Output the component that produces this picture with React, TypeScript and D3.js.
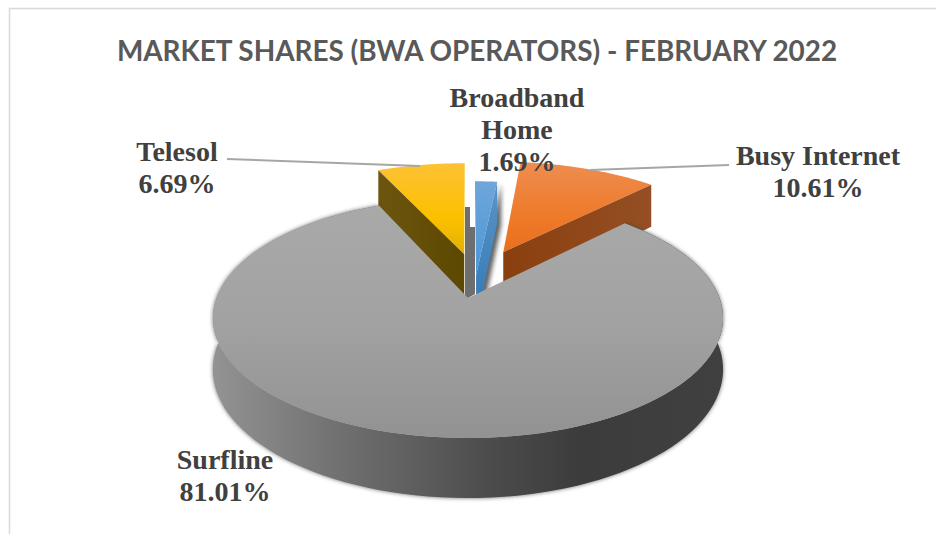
import React from "react";
import * as d3 from "d3";

const categories = ["Broadband Home", "Busy Internet", "Surfline", "Telesol"];
const shares = [1.69, 10.61, 81.01, 6.69];
const labelLines = [["Broadband", "Home", "1.69%"], ["Busy Internet", "10.61%"], ["Surfline", "81.01%"], ["Telesol", "6.69%"]];
const title = "MARKET SHARES (BWA OPERATORS) - FEBRUARY 2022";

const W = 936;
const H = 534;

// perspective of the pie plane: unit circle -> screen
const cx = 468;
const cy = 298;
const scaleU = 251.5;
const scaleV = 116.7;
const persp = 0.1667;
const depth = 50;

// how far each slice is pulled out, in pie radii (u, v), and its radius
const explode = [[0.033, -0.2], [0.15, -0.42], [0, 0], [-0.016, -0.4]];
const radius = [1, 1.03, 1, 1.03];
const labelPos = [[517, 107], [818, 165], [225, 469], [177, 161]];
const leaders = [null, [[729, 165], [590, 170]], null, [[227, 159], [420, 166]]];
// dark sliver seen between Telesol and Broadband Home
const sliver: [number, number][] = [[465, 207], [470, 207], [470, 227], [475, 227], [475, 294], [468, 298], [465, 298]];

const topFill = ["url(#topBlue)", "url(#topOrange)", "url(#topGray)", "url(#topYellow)"];
const wallFill = ["url(#wallBlue)", "url(#wallOrange)", "url(#wallGray)", "url(#wallYellow)"];

const project = (u: number, v: number, h = 0): [number, number] => {
  const w = 1 - persp * v;
  return [cx + (scaleU * u) / w, cy + (scaleV * v + depth * h) / w];
};

const line = d3.line();

const App = () => {
  const arcs = d3.pie<number>().sort(null).startAngle(0).endAngle(2 * Math.PI)(shares);

  const slices = arcs.map((a, i) => {
    const [ox, oy] = explode[i];
    const r = radius[i];
    const rim = (t: number, h = 0) => project(ox + r * Math.sin(t), oy - r * Math.cos(t), h);
    const steps = d3.range(0, 121).map((k) => a.startAngle + ((a.endAngle - a.startAngle) * k) / 120);
    const topPts = [project(ox, oy), ...steps.map((t) => rim(t))];
    const rimWall = [...steps.map((t) => rim(t)), ...steps.slice().reverse().map((t) => rim(t, 1))];
    const mid = (a.startAngle + a.endAngle) / 2;
    const edge = mid < Math.PI ? a.endAngle : a.startAngle;
    const radialWall = [project(ox, oy), rim(edge), rim(edge, 1), project(ox, oy, 1)];
    return { i, top: line(topPts) + "Z", rimWall: line(rimWall) + "Z", radialWall: line(radialWall) + "Z" };
  });

  const back = [slices[3], slices[1], slices[0]];
  const front = slices[2];

  return (
    <svg width={W} height={H} style={{ position: "absolute", left: 0, top: 0, background: "#fff" }}>
      <defs>
        <filter id="soft" x="-20%" y="-20%" width="140%" height="140%">
          <feGaussianBlur stdDeviation="2" />
        </filter>
        <linearGradient id="topGray" x1="0" y1="0" x2="0" y2="1">
          <stop offset="0" stopColor="#a9a9a9" />
          <stop offset="0.5" stopColor="#a2a2a2" />
          <stop offset="1" stopColor="#929292" />
        </linearGradient>
        <linearGradient id="wallGray" x1="0" y1="0" x2="1" y2="0">
          <stop offset="0" stopColor="#939393" />
          <stop offset="0.25" stopColor="#707070" />
          <stop offset="0.55" stopColor="#4b4b4b" />
          <stop offset="0.72" stopColor="#3c3c3c" />
          <stop offset="1" stopColor="#404040" />
        </linearGradient>
        <linearGradient id="topOrange" x1="0" y1="0" x2="0" y2="1">
          <stop offset="0" stopColor="#ee8d50" />
          <stop offset="0.6" stopColor="#ee7a2a" />
          <stop offset="1" stopColor="#e96f1c" />
        </linearGradient>
        <linearGradient id="wallOrange" x1="0" y1="0" x2="1" y2="0">
          <stop offset="0" stopColor="#8a3f0e" />
          <stop offset="1" stopColor="#954f24" />
        </linearGradient>
        <linearGradient id="topYellow" x1="0" y1="0" x2="0" y2="1">
          <stop offset="0" stopColor="#fcc233" />
          <stop offset="0.6" stopColor="#fcc000" />
          <stop offset="1" stopColor="#e3b000" />
        </linearGradient>
        <linearGradient id="wallYellow" x1="0" y1="0" x2="1" y2="0">
          <stop offset="0" stopColor="#6d5510" />
          <stop offset="1" stopColor="#5c4800" />
        </linearGradient>
        <linearGradient id="topBlue" x1="0" y1="0" x2="0" y2="1">
          <stop offset="0" stopColor="#6fa6da" />
          <stop offset="1" stopColor="#4a96d8" />
        </linearGradient>
        <linearGradient id="wallBlue" x1="0" y1="0" x2="0" y2="1">
          <stop offset="0" stopColor="#5c93c6" />
          <stop offset="1" stopColor="#2f78b4" />
        </linearGradient>
      </defs>

      <path d={`M9.5,${H}V8.5H${W}`} fill="none" stroke="#d9d9d9" strokeWidth={1.5} />

      <text x={477} y={61} textAnchor="middle" fontFamily="Lato" fontWeight={700} fontSize={27.9} fill="#595959">
        {title}
      </text>

      <path d={line(sliver) + "Z"} fill="#6e6e6e" />

      {back.map((s) => (
        <g key={categories[s.i]}>
          {s.i === 0 && <path d={s.radialWall} fill="#222" opacity={0.7} filter="url(#soft)" transform="translate(4,2)" />}
          <path d={s.top} fill={topFill[s.i]} />
          <path d={s.radialWall} fill={wallFill[s.i]} />
        </g>
      ))}

      <path d={front.rimWall} fill="#444" opacity={0.8} filter="url(#soft)" />
      <path d={front.rimWall} fill={wallFill[2]} />
      <path d={front.top} fill={topFill[2]} />

      {leaders.map((l, i) => l && <path key={i} d={line(l as [number, number][]) as string} fill="none" stroke="#a6a6a6" strokeWidth={2} />)}

      {labelLines.map((lines, i) => (
        <text key={categories[i]} x={labelPos[i][0]} y={labelPos[i][1]} textAnchor="middle" fontFamily="Liberation Serif" fontWeight={700} fontSize={28} fill="#404040">
          {lines.map((t, k) => (
            <tspan key={t} x={labelPos[i][0]} dy={k === 0 ? 0 : 32}>
              {t}
            </tspan>
          ))}
        </text>
      ))}
    </svg>
  );
};

export default App;
